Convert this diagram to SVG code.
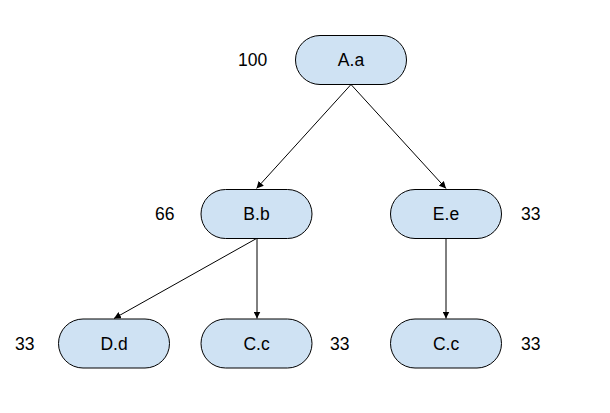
<svg xmlns="http://www.w3.org/2000/svg" width="610" height="413" viewBox="0 0 610 413">
<style>
.n{fill:#cfe2f3;stroke:#000;stroke-width:1}
.t{font-family:"Liberation Sans",Arial,sans-serif;font-size:17.5px;fill:#000;text-anchor:middle;dominant-baseline:central}
.l{font-family:"Liberation Sans",Arial,sans-serif;font-size:17.5px;fill:#000;dominant-baseline:central}
.e{stroke:#000;stroke-width:1;fill:none;marker-end:url(#ah)}
</style>
<defs>
<marker id="ah" viewBox="0 0 10 10" refX="10" refY="5" markerWidth="7" markerHeight="7" markerUnits="userSpaceOnUse" orient="auto">
<path d="M0,0 L10,5 L0,10 z" fill="#000"/>
</marker>
</defs>
<rect width="610" height="413" fill="#fff"/>
<g id="connectors">
<line class="e" x1="351" y1="84.5" x2="256.5" y2="188.5"/>
<line class="e" x1="351" y1="84.5" x2="446" y2="188.5"/>
<line class="e" x1="256.5" y1="238.5" x2="114" y2="318.5"/>
<line class="e" x1="257" y1="238.5" x2="257" y2="318.5"/>
<line class="e" x1="446" y1="238.5" x2="446" y2="318.5"/>
</g>
<g id="A"><rect class="n" x="295.5" y="35.5" width="111" height="49" rx="24.5"/><text class="t" x="351" y="60">A.a</text></g>
<g id="B"><rect class="n" x="201" y="189.5" width="111" height="49" rx="24.5"/><text class="t" x="256.5" y="214">B.b</text></g>
<g id="E"><rect class="n" x="390.5" y="189.5" width="111" height="49" rx="24.5"/><text class="t" x="446" y="214">E.e</text></g>
<g id="D"><rect class="n" x="58.5" y="319" width="111" height="49" rx="24.5"/><text class="t" x="114" y="343.5">D.d</text></g>
<g id="C1"><rect class="n" x="201" y="319" width="111" height="49" rx="24.5"/><text class="t" x="256.5" y="343.5">C.c</text></g>
<g id="C2"><rect class="n" x="390.5" y="319" width="111" height="49" rx="24.5"/><text class="t" x="446" y="343.5">C.c</text></g>
<g id="labels">
<text class="l" x="238" y="60">100</text>
<text class="l" x="155" y="214">66</text>
<text class="l" x="521" y="214">33</text>
<text class="l" x="15" y="343.5">33</text>
<text class="l" x="330" y="343.5">33</text>
<text class="l" x="521" y="343.5">33</text>
</g>
</svg>
